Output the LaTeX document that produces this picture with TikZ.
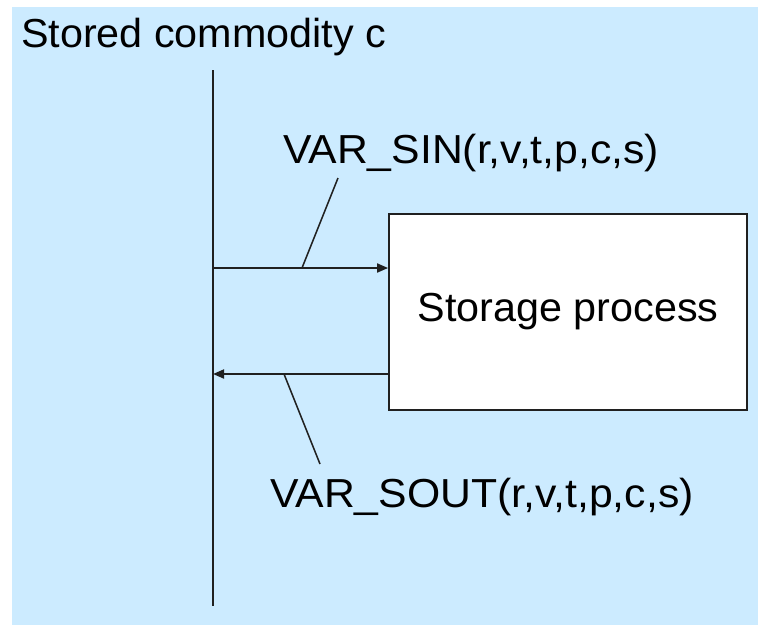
\documentclass[tikz,border=0pt]{standalone}
\usepackage{fontspec}
\setmainfont{Liberation Sans}
\newfontfamily\widefont[FakeStretch=1.055]{Liberation Sans}
\newfontfamily\midfont[FakeStretch=1.02]{Liberation Sans}
\usetikzlibrary{arrows.meta}
\definecolor{panelblue}{HTML}{CCEBFF}
\definecolor{edgegray}{HTML}{202020}
\tikzset{
  lbl/.style={inner sep=0pt, anchor=base west, font=\midfont\fontsize{40.5}{48}\selectfont},
  varlbl/.style={lbl, font=\widefont\fontsize{40.5}{48}\selectfont},
  flow/.style={draw=edgegray, line width=1.8pt, -{Triangle[length=11pt,width=9pt]}},
  plain/.style={draw=edgegray, line width=1.8pt},
  lead/.style={draw=edgegray, line width=1.5pt},
  procbox/.style={draw=edgegray, line width=1.8pt, fill=white, inner sep=0pt,
    minimum width=358pt, minimum height=196pt, font=\midfont\fontsize{40.5}{48}\selectfont}
}
\begin{document}
\begin{tikzpicture}[x=1pt,y=-1pt]
  \useasboundingbox (0,0) rectangle (758,625);
  % panel
  \fill[panelblue] (12,7) rectangle (758,625);
  % title
  \node[lbl] (title) at (21,47) {Stored commodity c};
  % commodity line
  \coordinate (ctop) at (213,70);
  \coordinate (cbot) at (213,606);
  \draw[plain] (ctop) -- (cbot);
  % storage process
  \node[procbox] (proc) at (568,312) {Storage process};
  % flows
  \coordinate (inL) at (213,268);
  \coordinate (outL) at (213,374);
  \draw[flow] (inL) -- (inL -| proc.west);
  \draw[flow] (outL -| proc.west) -- (outL);
  % labels with leader lines
  \node[varlbl] (sin) at (283,163) {VAR\_SIN(r,v,t,p,c,s)};
  \node[varlbl] (sout) at (270,507) {VAR\_SOUT(r,v,t,p,c,s)};
  \coordinate (sinA) at (338,178);
  \coordinate (sinB) at (302,268);
  \coordinate (soutA) at (284,374);
  \coordinate (soutB) at (320,464);
  \draw[lead] (sinA) -- (sinB);
  \draw[lead] (soutA) -- (soutB);
\end{tikzpicture}
\end{document}
